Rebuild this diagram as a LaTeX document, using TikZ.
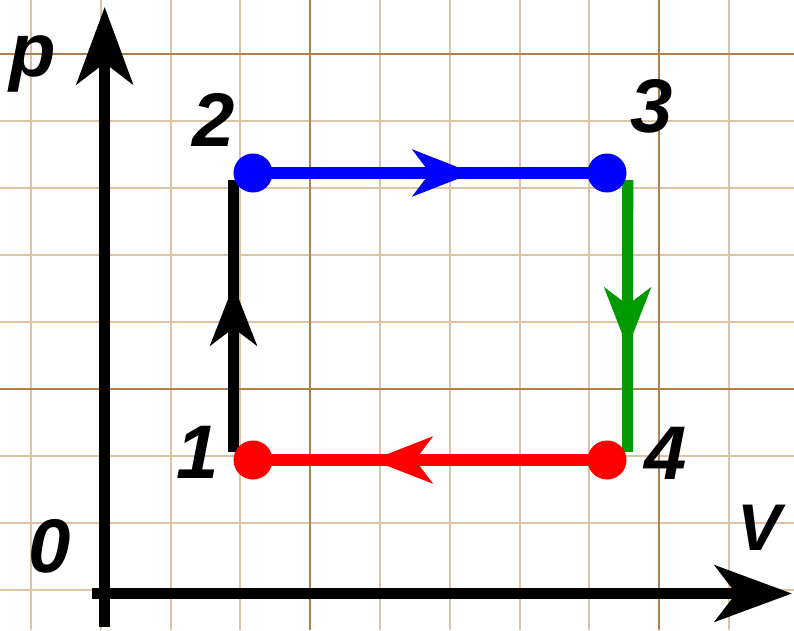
\documentclass[tikz,border=0pt]{standalone}
\usepackage{fontspec}
\setmainfont{Liberation Sans}
\usetikzlibrary{arrows.meta,calc}
\definecolor{luoinhat}{RGB}{222,194,164}
\definecolor{luoidam}{RGB}{178,128,77}
\definecolor{xanhla}{RGB}{0,153,0}
\begin{document}
\begin{tikzpicture}[x=1pt, y=-1pt,
    trucmui/.style={-{Stealth[length=77pt,width=56pt,inset=21pt]}, line width=11.5pt},
    muigiua/.style={-{Stealth[length=60pt,width=46pt,inset=17pt]}},
    nhan/.style={font=\fontsize{76}{76}\selectfont\bfseries\itshape, inner sep=0pt},
    diem/.style={circle, fill=#1, minimum size=39pt, inner sep=0pt}]
  \useasboundingbox (0,0) rectangle (794,630);
  % Lưới ô vuông (nét nhạt)
  \foreach \i in {0,...,10}
    \draw[luoinhat, line width=2pt] ({31+69.8*\i},0) -- ({31+69.8*\i},630);
  \foreach \j in {0,...,8}
    \draw[luoinhat, line width=2pt] (0,{54.3+67*\j}) -- (794,{54.3+67*\j});
  % Lưới ô vuông (nét đậm)
  \foreach \i in {4,9}
    \draw[luoidam, line width=2pt] ({31+69.8*\i},0) -- ({31+69.8*\i},630);
  \foreach \j in {0,5}
    \draw[luoidam, line width=2pt] (0,{54.3+67*\j}) -- (794,{54.3+67*\j});
  % Hai trục p và V
  \coordinate (goc) at (104.7,627);
  \coordinate (dinhp) at (104.7,7);
  \coordinate (dauV) at (91.7,593.5);
  \coordinate (dinhV) at (792,593.5);
  \draw[trucmui] (goc) -- (dinhp);
  \draw[trucmui] (dauV) -- (dinhV);
  \node[nhan] (lp) at (33,64) {p};
  \node[nhan, font=\fontsize{66}{66}\selectfont\bfseries\itshape] (lV) at (759,528) {V};
  \node[nhan] (l0) at (50,546) {0};
  % Bốn trạng thái của chu trình
  \coordinate (c1) at (253,460);
  \coordinate (c2) at (253,173);
  \coordinate (c3) at (607,173);
  \coordinate (c4) at (607,460);
  % 1 -> 2 (đen, lệch trái)
  \coordinate (d12) at ($(c1)+(-19.5,-8)$);
  \coordinate (c12) at ($(c2)+(-19.5,7)$);
  \coordinate (m12) at (233.5,285);
  \draw[line width=11pt] (d12) -- (c12);
  \draw[muigiua, line width=11pt] (d12) -- (m12);
  % 2 -> 3 (xanh dương)
  \coordinate (m23) at (473,173);
  \draw[blue, line width=12pt] (c2) -- (c3);
  \draw[blue, muigiua, line width=12pt] (c2) -- (m23);
  % 3 -> 4 (xanh lá, lệch phải)
  \coordinate (d34) at ($(c3)+(20.8,7)$);
  \coordinate (c34) at ($(c4)+(20.8,-8)$);
  \coordinate (m34) at (627.5,348);
  \draw[xanhla, line width=11pt] (d34) -- (c34);
  \draw[xanhla, muigiua, line width=11pt] (d34) -- (m34);
  % 4 -> 1 (đỏ)
  \coordinate (m41) at (372,460);
  \draw[red, line width=12pt] (c4) -- (c1);
  \draw[red, muigiua, line width=12pt] (c4) -- (m41);
  % Các chấm tròn và số thứ tự
  \node[diem=red] (p1) at (c1) {};
  \node[diem=blue] (p2) at (c2) {};
  \node[diem=blue] (p3) at (c3) {};
  \node[diem=red] (p4) at (c4) {};
  \node[nhan] (l1) at (198,452) {1};
  \node[nhan] (l2) at (214,120) {2};
  \node[nhan] (l3) at (652,106) {3};
  \node[nhan] (l4) at (666,453) {4};
\end{tikzpicture}
\end{document}
